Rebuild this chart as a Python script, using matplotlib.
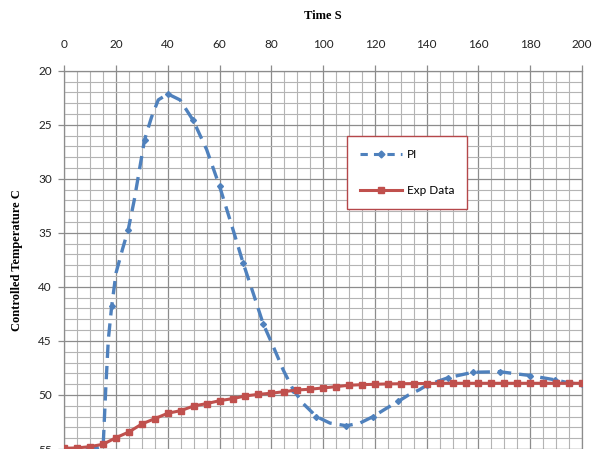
import numpy as np
import matplotlib
matplotlib.use("Agg")
import matplotlib.pyplot as plt
from matplotlib.ticker import MultipleLocator
from matplotlib.lines import Line2D

# Exp Data: one point every 5 s
exp_time = list(range(0, 205, 5))
exp_temp = [54.93, 54.90, 54.78, 54.56, 53.95, 53.42, 52.68, 52.19, 51.69, 51.45,
            51.02, 50.80, 50.53, 50.34, 50.09, 49.94, 49.84, 49.69, 49.54, 49.47,
            49.35, 49.23, 49.10, 49.05, 49.01, 48.98, 48.96, 48.95, 48.94, 48.92,
            48.92, 48.92, 48.92, 48.92, 48.92, 48.92, 48.92, 48.92, 48.92, 48.92,
            48.92]

# PI response
pi_time = [0, 5, 10, 15, 16, 17, 18.3, 20, 22.5, 24.7, 27, 29, 31, 33.7, 36.3,
           40, 44.7, 49.8, 55, 60, 65.3, 69.1, 73, 76.8, 80.7, 84.6, 88.4, 92.3,
           97.4, 102.6, 109, 114.2, 119.3, 124, 129, 133, 137.3, 140, 148.3,
           157.9, 168.2, 179.8, 189.5, 195.3, 200]
pi_temp = [55.0, 55.0, 55.0, 54.8, 49.5, 44.9, 41.8, 38.7, 36.5, 34.7, 32.0, 29.2,
           26.4, 24.3, 22.7, 22.15, 22.7, 24.6, 27.3, 30.7, 34.8, 37.8, 40.6, 43.4,
           45.5, 47.7, 49.5, 50.8, 52.0, 52.6, 52.85, 52.6, 52.0, 51.3, 50.6, 50.0,
           49.5, 49.1, 48.4, 47.9, 47.85, 48.2, 48.6, 48.9, 49.0]
pi_marks = [6, 9, 12, 15, 17, 19, 21, 23, 26, 28, 30, 32, 34, 37, 38, 39, 40, 41, 42, 44]

blue = "#4f81bd"
red = "#c0504d"

fig = plt.figure(figsize=(6.02, 4.49), dpi=100)
ax = fig.add_axes([0.1068, 0.0, 0.86, 0.8425])

ax.plot(pi_time, pi_temp, color=blue, lw=2.4, dashes=(4, 2.4),
        marker="D", ms=3, markevery=pi_marks, zorder=3)
ax.plot(exp_time, exp_temp, color=red, lw=2.2, marker="s", ms=5, zorder=4)

ax.set_xlim(0, 200)
ax.set_ylim(55, 20)
ax.xaxis.tick_top()
ax.xaxis.set_major_locator(MultipleLocator(20))
ax.xaxis.set_minor_locator(MultipleLocator(5))
ax.yaxis.set_major_locator(MultipleLocator(5))
ax.yaxis.set_minor_locator(MultipleLocator(1))

ax.grid(which="major", color="#8c8c8c", lw=0.9)
ax.grid(which="minor", color="#b4b4b4", lw=0.8)
ax.set_axisbelow(True)

for s in ax.spines.values():
    s.set_color("#8c8c8c")
    s.set_linewidth(0.9)

ax.tick_params(which="major", length=4, width=0.9, color="#8c8c8c",
               labelsize=8.5, labelcolor="#222222")
ax.tick_params(axis="x", which="major", pad=11)
ax.tick_params(axis="y", which="major", pad=5)
ax.tick_params(which="minor", length=0)
for lab in ax.get_xticklabels() + ax.get_yticklabels():
    lab.set_family("Lato")

fig.text(0.536, 0.965, "Time S", ha="center", va="center",
         family="Liberation Serif", fontweight="bold", fontsize=9)
fig.text(0.028, 0.42, "Controlled Temperature C", ha="center", va="center",
         rotation=90, family="Liberation Serif", fontweight="bold", fontsize=9)

handles = [
    Line2D([0, 0.5, 1], [0, 0, 0], color=blue, lw=2.2, dashes=(2.4, 2.0),
           marker="D", ms=3.5, markevery=[1]),
    Line2D([0, 0.5, 1], [0, 0, 0], color=red, lw=2.2, marker="s", ms=5,
           markevery=[1]),
]
leg = ax.legend(handles, ["PI", "Exp Data"], loc="upper left",
                bbox_to_anchor=(0.546, 0.827), borderaxespad=0, fancybox=False,
                framealpha=1, edgecolor="#b5474a", borderpad=1.1,
                labelspacing=2.1, handlelength=3.6, handletextpad=0.35,
                prop={"family": "Lato", "size": 8.5})
leg.get_frame().set_linewidth(1.0)
leg.set_zorder(5)

fig.savefig("out.png", dpi=100)
